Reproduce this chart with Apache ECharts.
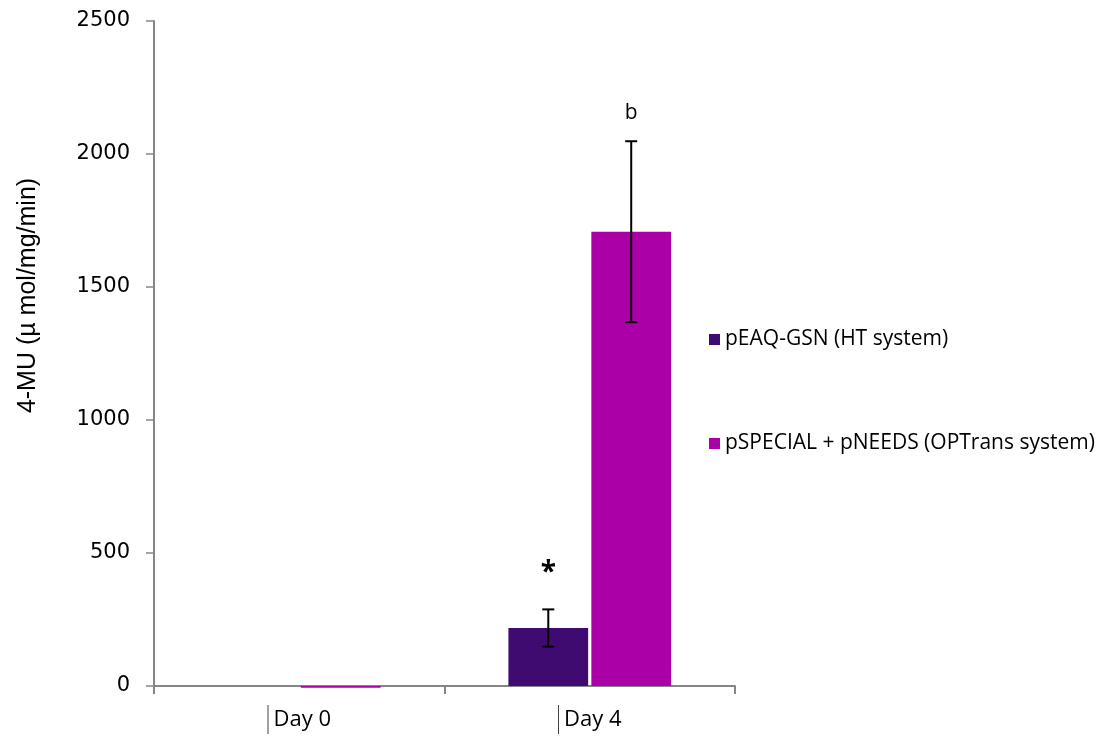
<!DOCTYPE html>
<html>
<head>
<meta charset="utf-8">
<script src="https://cdn.jsdelivr.net/npm/echarts@6/dist/echarts.min.js"></script>
<style>
  html, body { margin: 0; padding: 0; background: #fff; }
  #chart { width: 1096px; height: 736px; }
</style>
</head>
<body>
<div id="chart"></div>
<script>
// Days sampled
const categories = ['Day 0', 'Day 4'];
// Series names
const seriesNames = ['pEAQ-GSN (HT system)', 'pSPECIAL + pNEEDS (OPTrans system)'];
// Mean activity per day
const htValues = [0, 218];
const optransValues = [-7, 1708];
// Standard error per day (null = none drawn)
const htErrors = [null, 70];
const optransErrors = [null, 340];
// Significance marks above the error bars
const htMarks = ['', '*'];
const optransMarks = ['', 'b'];
// Value-axis ticks
const yTicks = [0, 500, 1000, 1500, 2000, 2500];

const colors = ['#3F0B70', '#AB00A8'];
const axisGray = '#868686';
const FONT = 'Open Sans';

const CAT_GAP = 0.44;
const BAR_GAP = 0.04;

function errorSeries(idx, values, errors, marks) {
  const data = values.map((v, i) => [i, v, errors[i], marks[i]]);
  return {
    type: 'custom',
    name: seriesNames[idx] + ' error',
    z: 10,
    silent: true,
    data: data,
    renderItem: function (params, api) {
      const ci = api.value(0);
      const mean = api.value(1);
      const err = api.value(2);
      const mark = data[params.dataIndex][3];
      if (err == null || isNaN(err)) return null;
      const cw = api.size([1, 0])[0];
      const bw = cw * (1 - CAT_GAP) / (2 + BAR_GAP);
      const off = (idx === 0 ? -1 : 1) * (bw / 2 + bw * BAR_GAP / 2);
      const top = api.coord([ci, mean + err]);
      const bot = api.coord([ci, mean - err]);
      const x = top[0] + off;
      const cap = 6;
      const style = { stroke: '#000', lineWidth: 2 };
      const children = [
        { type: 'line', shape: { x1: x, y1: top[1], x2: x, y2: bot[1] }, style: style },
        { type: 'line', shape: { x1: x - cap, y1: top[1], x2: x + cap, y2: top[1] }, style: style },
        { type: 'line', shape: { x1: x - cap, y1: bot[1], x2: x + cap, y2: bot[1] }, style: style }
      ];
      if (mark) {
        const star = mark === '*';
        children.push({
          type: 'text',
          style: {
            text: mark,
            x: x,
            y: top[1] - (star ? 22 : 18),
            align: 'center',
            verticalAlign: 'bottom',
            fontFamily: FONT,
            fontSize: star ? 28 : 21,
            fontWeight: star ? 'bold' : 'normal',
            fill: '#000'
          }
        });
      }
      return { type: 'group', children: children };
    }
  };
}

const chart = echarts.init(document.getElementById('chart'));
chart.setOption({
  animation: false,
  backgroundColor: '#fff',
  textStyle: { fontFamily: FONT },
  grid: { left: 154, right: 361, top: 21, bottom: 50, containLabel: false, outerBoundsMode: 'none' },
  legend: {
    orient: 'vertical',
    left: 704,
    top: 324,
    itemWidth: 11,
    itemHeight: 11,
    itemGap: 83,
    icon: 'rect',
    textStyle: { fontFamily: FONT, fontSize: 21, color: '#000' },
    data: seriesNames
  },
  xAxis: {
    type: 'category',
    data: categories,
    axisLine: { lineStyle: { color: axisGray, width: 2 } },
    axisTick: { show: true, interval: 0, alignWithLabel: false, length: 8, lineStyle: { color: axisGray, width: 2 } },
    axisLabel: {
      margin: 19,
      interval: 0,
      formatter: function (v) { return '{bar| }{t|' + v + '}'; },
      rich: {
        bar: { width: 1, height: 29, backgroundColor: '#444' },
        t: { fontFamily: FONT, fontSize: 22, color: '#000', padding: [0, 0, 0, 5], height: 29, lineHeight: 29 }
      }
    }
  },
  yAxis: {
    type: 'value',
    min: yTicks[0],
    max: yTicks[yTicks.length - 1],
    interval: yTicks[1] - yTicks[0],
    name: '4-MU (µ mol/mg/min)',
    nameLocation: 'middle',
    nameGap: 113,
    nameRotate: 90,
    nameTextStyle: { fontFamily: 'Liberation Sans', fontSize: 25, color: '#000', padding: [0, 0, 0, 116] },
    axisLine: { show: true, lineStyle: { color: axisGray, width: 2 } },
    axisTick: { show: true, length: 8, lineStyle: { color: axisGray, width: 1.5 } },
    axisLabel: {
      margin: 24,
      fontFamily: 'DejaVu Sans',
      fontSize: 21,
      color: '#000',
      formatter: function (v) { return String(v); }
    },
    splitLine: { show: false }
  },
  series: [
    {
      type: 'bar',
      name: seriesNames[0],
      data: htValues,
      itemStyle: { color: colors[0] },
      barCategoryGap: (CAT_GAP * 100) + '%',
      barGap: (BAR_GAP * 100) + '%',
      clip: false
    },
    {
      type: 'bar',
      name: seriesNames[1],
      data: optransValues,
      itemStyle: { color: colors[1] },
      barCategoryGap: (CAT_GAP * 100) + '%',
      barGap: (BAR_GAP * 100) + '%',
      clip: false
    },
    errorSeries(0, htValues, htErrors, htMarks),
    errorSeries(1, optransValues, optransErrors, optransMarks)
  ]
});
</script>
</body>
</html>
